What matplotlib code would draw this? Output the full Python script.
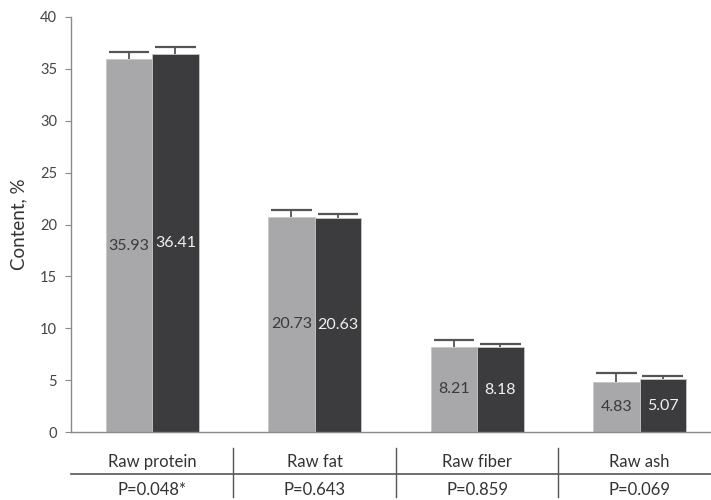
import numpy as np
import matplotlib.pyplot as plt
import matplotlib.transforms as mtransforms

plt.rcParams['font.family'] = ['Lato', 'DejaVu Sans']

# Data
categories = ['Raw protein', 'Raw fat', 'Raw fiber', 'Raw ash']
p_values = ['P=0.048*', 'P=0.643', 'P=0.859', 'P=0.069']
group_a = [35.93, 20.73, 8.21, 4.83]
group_b = [36.41, 20.63, 8.18, 5.07]
err_a = [0.72, 0.67, 0.66, 0.82]
err_b = [0.70, 0.35, 0.33, 0.36]

light = '#a8a8ab'
dark = '#3c3b3e'
axis_col = '#8a8a8a'
err_col = '#555555'

fig = plt.figure(figsize=(7.11, 5.0), dpi=100)
ax = fig.add_axes([0.0999, 0.136, 0.9001, 0.83])

x = np.arange(len(categories))
w = 0.286
cap = 0.125

xa = x - w / 2
xb = x + w / 2
ax.bar(xa, group_a, w, color=light, edgecolor='#c8c8c8', linewidth=0.6)
ax.bar(xb, group_b, w, color=dark, edgecolor='#c8c8c8', linewidth=0.6)

# upper error bars only (stem + top cap)
for xs, vals, errs in [(xa, group_a, err_a), (xb, group_b, err_b)]:
    tops = np.array(vals) + np.array(errs)
    ax.vlines(xs, vals, tops, color=err_col, linewidth=1.3)
    ax.hlines(tops, xs - cap, xs + cap, color=err_col, linewidth=1.6)

# value labels at mid-height
for xi, v in zip(xa, group_a):
    ax.text(xi, v / 2, f'{v:.2f}', ha='center', va='center', fontsize=11.5, color='#3a3a3a')
for xi, v in zip(xb, group_b):
    ax.text(xi, v / 2, f'{v:.2f}', ha='center', va='center', fontsize=11.5, color='#f0f0f0')

ax.set_xlim(-0.5, 3.44)
ax.set_ylim(0, 40)
ax.set_yticks(np.arange(0, 41, 5))
ax.set_xticks([])
ax.tick_params(axis='y', direction='out', length=4, color=axis_col,
               labelsize=10.5, labelcolor='#444444', pad=6)
for s in ['top', 'right']:
    ax.spines[s].set_visible(False)
for s in ['left', 'bottom']:
    ax.spines[s].set_color(axis_col)
    ax.spines[s].set_linewidth(1.0)
ax.set_ylabel('Content, %', fontsize=13.5, color='#333333', labelpad=9)

# table below axis
trans = mtransforms.blended_transform_factory(ax.transData, ax.transAxes)
for xi, name, p in zip(x, categories, p_values):
    ax.text(xi, -0.072, name, transform=trans, ha='center', va='center',
            fontsize=12, color='#333333', clip_on=False)
    ax.text(xi, -0.14, p, transform=trans, ha='center', va='center',
            fontsize=12, color='#333333', clip_on=False)
ax.plot([-0.5, 3.44], [-0.101, -0.101], transform=trans, color='#555555',
        linewidth=1.2, clip_on=False)
for b in [0.5, 1.5, 2.5]:
    ax.plot([b, b], [-0.0386, -0.157], transform=trans, color='#555555',
            linewidth=1.0, clip_on=False)

fig.savefig('out.png', dpi=100)
